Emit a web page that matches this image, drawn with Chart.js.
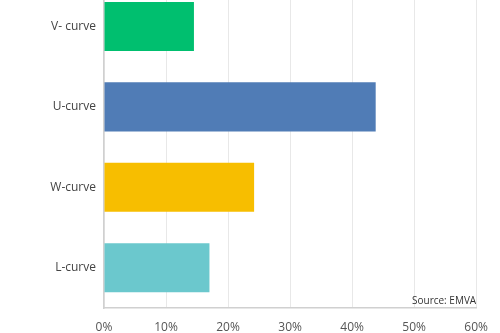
<!DOCTYPE html>
<html>
<head>
<meta charset="utf-8">
<script src="https://cdn.jsdelivr.net/npm/chart.js@4/dist/chart.umd.min.js"></script>
<style>
  html, body { margin: 0; padding: 0; background: #fff; overflow: hidden; }
  #wrap { position: absolute; left: 0; top: -29px; width: 500px; height: 364px; }
</style>
</head>
<body>
<div id="wrap"><canvas id="curveChart"></canvas></div>
<script>
/* ══════════════════════════════
   DATA
══════════════════════════════ */
const categories = ['V- curve', 'U-curve', 'W-curve', 'L-curve'];
const shares = [14.5, 43.8, 24.2, 17.0];
const barColors = ['#00bf6f', '#507cb6', '#f7be00', '#6bc8cd'];
const xTicks = [0, 10, 20, 30, 40, 50, 60];
const sourceNote = 'Source: EMVA';

/* ══════════════════════════════
   SOURCE LABEL PLUGIN
══════════════════════════════ */
const sourcePlugin = {
  id: 'sourceNote',
  afterDraw(chart) {
    const { ctx, chartArea } = chart;
    ctx.save();
    ctx.font = '10px "Open Sans", sans-serif';
    ctx.fillStyle = '#333';
    ctx.textAlign = 'right';
    ctx.textBaseline = 'middle';
    ctx.fillText(sourceNote, chartArea.right, chartArea.bottom - 7);
    ctx.restore();
  }
};

/* ══════════════════════════════
   CHART
══════════════════════════════ */
const ctx = document.getElementById('curveChart').getContext('2d');

new Chart(ctx, {
  type: 'bar',
  data: {
    labels: categories,
    datasets: [{
      data: shares,
      backgroundColor: barColors,
      categoryPercentage: 1,
      barPercentage: 0.61
    }]
  },
  plugins: [sourcePlugin],
  options: {
    indexAxis: 'y',
    responsive: true,
    maintainAspectRatio: false,
    animation: false,
    layout: { padding: { left: 0, right: 10, top: 0, bottom: 0 } },
    plugins: {
      legend: { display: false },
      tooltip: { enabled: false }
    },
    scales: {
      x: {
        min: 0,
        max: 60,
        afterBuildTicks: scale => { scale.ticks = xTicks.map(v => ({ value: v })); },
        afterFit: scale => { scale.height = 27; },
        grid: { color: '#e8e8e8', drawTicks: false },
        border: { color: '#d0d0d0', width: 1.5 },
        ticks: {
          padding: 12,
          color: '#555',
          font: { family: '"Open Sans", sans-serif', size: 12 },
          callback: v => v + '%'
        }
      },
      y: {
        afterFit: scale => { scale.width = 104; },
        grid: { display: false, drawTicks: false },
        border: { color: '#d0d0d0', width: 1.5 },
        ticks: {
          padding: 8,
          color: '#444',
          font: { family: '"Open Sans", sans-serif', size: 12 }
        }
      }
    }
  }
});
</script>
</body>
</html>
